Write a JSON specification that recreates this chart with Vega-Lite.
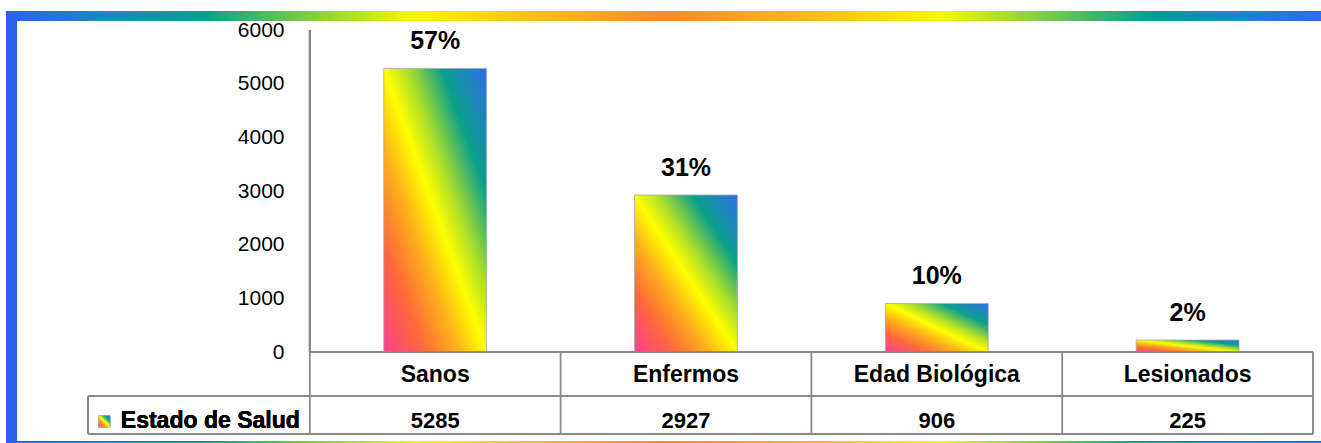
{
  "$schema": "https://vega.github.io/schema/vega-lite/v6.json",
  "autosize": {"type": "none"},
  "padding": {"left": 59, "top": 30, "right": 8, "bottom": 9},
  "width": 1254,
  "height": 404,
  "background": "white",
  "config": {"view": {"stroke": null}, "font": "Liberation Sans"},
  "data": {"values": [
    {"estado": "Sanos", "valor": 5285, "pct": "57%"},
    {"estado": "Enfermos", "valor": 2927, "pct": "31%"},
    {"estado": "Edad Biológica", "valor": 906, "pct": "10%"},
    {"estado": "Lesionados", "valor": 225, "pct": "2%"}
  ]},
  "layer": [
    {
      "mark": {"type": "rect", "fill": {"gradient": "linear", "x1": 0, "y1": 0, "x2": 1, "y2": 0, "stops": [
        {"offset": 0, "color": "#2d62f0"}, {"offset": 0.08, "color": "#1a8ac0"}, {"offset": 0.15, "color": "#05a08f"},
        {"offset": 0.23, "color": "#7ccf3f"}, {"offset": 0.31, "color": "#f8f800"}, {"offset": 0.4, "color": "#ffbf1a"},
        {"offset": 0.5, "color": "#ff8a28"}, {"offset": 0.6, "color": "#ffb320"}, {"offset": 0.71, "color": "#f8f800"},
        {"offset": 0.79, "color": "#7acb4a"}, {"offset": 0.87, "color": "#00a090"}, {"offset": 0.93, "color": "#1a88c8"},
        {"offset": 1, "color": "#2d6bf0"}]}},
      "encoding": {
        "x": {"datum": "Estado de Salud", "bandPosition": -0.2113, "type": "nominal", "scale": {"domain": ["Estado de Salud", "Sanos", "Enfermos", "Edad Biológica", "Lesionados"], "paddingInner": 0, "paddingOuter": 0}, "axis": null},
        "x2": {"datum": "Lesionados", "bandPosition": 1.033},
        "y": {"datum": 6354, "type": "quantitative", "scale": {"domain": [-1525, 6000], "nice": false, "zero": false},
          "axis": {"values": [0, 1000, 2000, 3000, 4000, 5000, 6000], "format": "d", "offset": -251, "domain": false, "ticks": false, "grid": false,
            "labelPadding": 26, "labelFontSize": 21, "labelColor": "#000000", "labelFont": "Liberation Sans", "title": null}},
        "y2": {"datum": 6168}
      }
    },
    {
      "mark": {"type": "rect", "fill": {"gradient": "linear", "x1": 0, "y1": 0, "x2": 1, "y2": 0, "stops": [
        {"offset": 0, "color": "#2d62f0"}, {"offset": 0.08, "color": "#1a8ac0"}, {"offset": 0.15, "color": "#05a08f"},
        {"offset": 0.23, "color": "#7ccf3f"}, {"offset": 0.31, "color": "#f8f800"}, {"offset": 0.4, "color": "#ffbf1a"},
        {"offset": 0.5, "color": "#ff8a28"}, {"offset": 0.6, "color": "#ffb320"}, {"offset": 0.71, "color": "#f8f800"},
        {"offset": 0.79, "color": "#7acb4a"}, {"offset": 0.87, "color": "#00a090"}, {"offset": 0.93, "color": "#1a88c8"},
        {"offset": 1, "color": "#2d6bf0"}]}},
      "encoding": {
        "x": {"datum": "Estado de Salud", "bandPosition": -0.2113, "type": "nominal"},
        "x2": {"datum": "Lesionados", "bandPosition": 1.033},
        "y": {"datum": -1655, "type": "quantitative"},
        "y2": {"datum": -1693}
      }
    },
    {
      "mark": {"type": "rect", "fill": "#2b63ec"},
      "encoding": {
        "x": {"datum": "Estado de Salud", "bandPosition": -0.2113, "type": "nominal"},
        "x2": {"datum": "Estado de Salud", "bandPosition": -0.1675},
        "y": {"datum": 6300, "type": "quantitative"},
        "y2": {"datum": -1693}
      }
    },
    {
      "mark": {"type": "bar", "width": {"band": 0.41}, "stroke": "#a8a8a8", "strokeWidth": 0.8,
        "fill": {"gradient": "linear", "x1": 0, "y1": 1, "x2": 1, "y2": 0, "stops": [
          {"offset": 0, "color": "#ff3d8f"}, {"offset": 0.2, "color": "#ff6a3a"}, {"offset": 0.36, "color": "#ffb01a"},
          {"offset": 0.5, "color": "#ffff00"}, {"offset": 0.62, "color": "#a8dc2c"}, {"offset": 0.78, "color": "#0aa08a"},
          {"offset": 1, "color": "#2e6ee6"}]}},
      "encoding": {
        "x": {"field": "estado", "type": "nominal"},
        "y": {"field": "valor", "type": "quantitative"},
        "y2": {"datum": 0}
      }
    },
    {
      "mark": {"type": "text", "fontWeight": "bold", "fontSize": 25, "baseline": "middle", "dy": -27, "color": "#000000"},
      "encoding": {
        "x": {"field": "estado", "type": "nominal"},
        "y": {"field": "valor", "type": "quantitative"},
        "text": {"field": "pct"}
      }
    },
    {
      "mark": {"type": "text", "fontWeight": "bold", "fontSize": 23, "baseline": "middle", "color": "#000000"},
      "encoding": {
        "x": {"field": "estado", "type": "nominal"},
        "y": {"datum": -427, "type": "quantitative"},
        "text": {"field": "estado"}
      }
    },
    {
      "mark": {"type": "text", "fontWeight": "bold", "fontSize": 22, "baseline": "middle", "color": "#000000"},
      "encoding": {
        "x": {"field": "estado", "type": "nominal"},
        "y": {"datum": -1284, "type": "quantitative"},
        "text": {"field": "valor"}
      }
    },
    {
      "mark": {"type": "text", "fontWeight": "bold", "fontSize": 23, "baseline": "middle", "align": "right", "color": "#000000"},
      "encoding": {
        "x": {"datum": "Estado de Salud", "bandPosition": 0.96, "type": "nominal"},
        "y": {"datum": -1284, "type": "quantitative"},
        "text": {"value": "Estado de Salud"}
      }
    },
    {
      "mark": {"type": "rect", "stroke": "#b0b0b0", "strokeWidth": 0.5,
        "fill": {"gradient": "linear", "x1": 0, "y1": 1, "x2": 1, "y2": 0, "stops": [
          {"offset": 0, "color": "#ff3d8f"}, {"offset": 0.3, "color": "#ff8a2a"}, {"offset": 0.5, "color": "#ffff00"},
          {"offset": 0.75, "color": "#0aa08a"}, {"offset": 1, "color": "#2e6ee6"}]}},
      "encoding": {
        "x": {"datum": "Estado de Salud", "bandPosition": 0.158, "type": "nominal"},
        "x2": {"datum": "Estado de Salud", "bandPosition": 0.204},
        "y": {"datum": -1180, "type": "quantitative"},
        "y2": {"datum": -1400}
      }
    },
    {
      "mark": {"type": "rule", "color": "#8a8a8a", "strokeWidth": 1.8},
      "encoding": {
        "x": {"field": "estado", "type": "nominal", "bandPosition": 0},
        "y": {"datum": 0, "type": "quantitative"},
        "y2": {"datum": -1525}
      }
    },
    {
      "mark": {"type": "rule", "color": "#8a8a8a", "strokeWidth": 1.8},
      "encoding": {
        "x": {"datum": "Sanos", "bandPosition": 0, "type": "nominal"},
        "y": {"datum": 6000, "type": "quantitative"},
        "y2": {"datum": 0}
      }
    },
    {
      "mark": {"type": "rule", "color": "#8a8a8a", "strokeWidth": 1.8},
      "encoding": {
        "x": {"datum": "Lesionados", "bandPosition": 1, "type": "nominal"},
        "y": {"datum": 0, "type": "quantitative"},
        "y2": {"datum": -1525}
      }
    },
    {
      "mark": {"type": "rule", "color": "#8a8a8a", "strokeWidth": 1.8},
      "encoding": {
        "x": {"datum": "Estado de Salud", "bandPosition": 0.116, "type": "nominal"},
        "y": {"datum": -820, "type": "quantitative"},
        "y2": {"datum": -1525}
      }
    },
    {
      "mark": {"type": "rule", "color": "#8a8a8a", "strokeWidth": 1.8},
      "encoding": {
        "x": {"datum": "Sanos", "bandPosition": 0, "type": "nominal"},
        "x2": {"datum": "Lesionados", "bandPosition": 1},
        "y": {"datum": 0, "type": "quantitative"}
      }
    },
    {
      "mark": {"type": "rule", "color": "#8a8a8a", "strokeWidth": 1.8},
      "encoding": {
        "x": {"datum": "Estado de Salud", "bandPosition": 0.116, "type": "nominal"},
        "x2": {"datum": "Lesionados", "bandPosition": 1},
        "y": {"datum": -820, "type": "quantitative"}
      }
    },
    {
      "mark": {"type": "rule", "color": "#8a8a8a", "strokeWidth": 1.8},
      "encoding": {
        "x": {"datum": "Estado de Salud", "bandPosition": 0.116, "type": "nominal"},
        "x2": {"datum": "Lesionados", "bandPosition": 1},
        "y": {"datum": -1525, "type": "quantitative"}
      }
    }
  ]
}
